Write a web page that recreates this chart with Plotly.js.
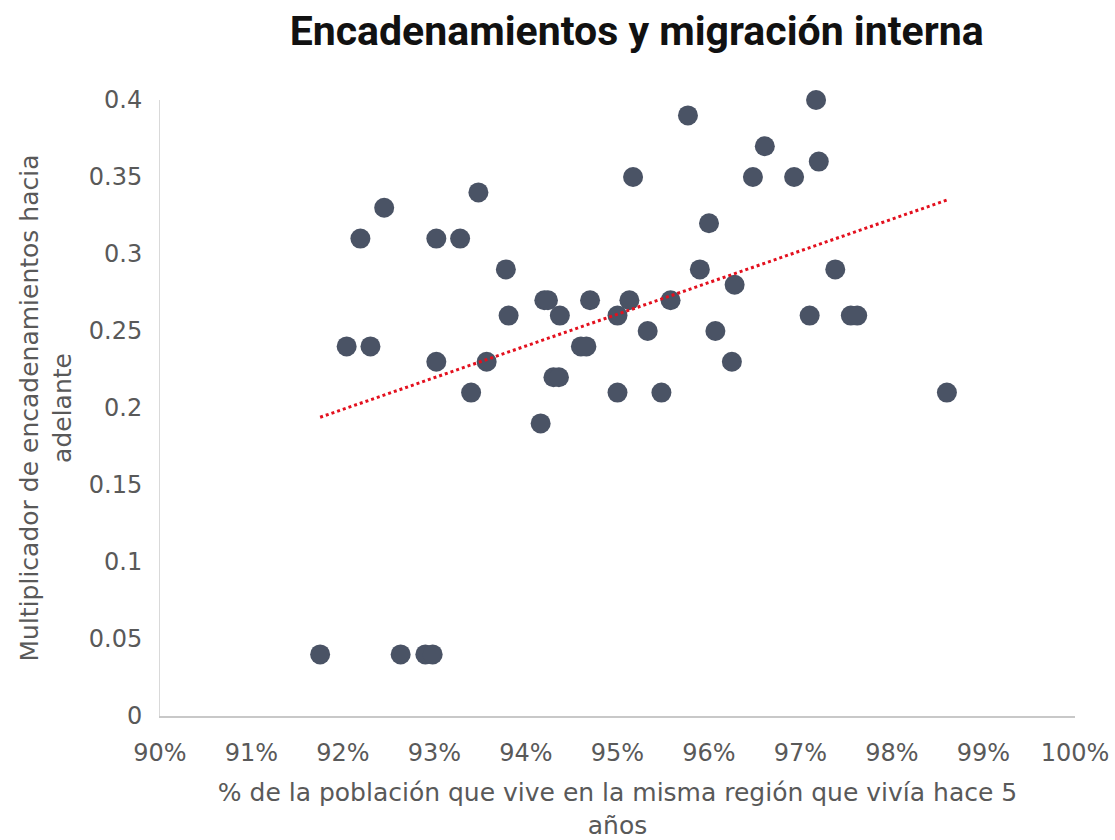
<!DOCTYPE html>
<html>
<head>
<meta charset="utf-8">
<script src="https://cdn.plot.ly/plotly-3.0.1.min.js"></script>
<style>html,body{margin:0;padding:0;background:#fff;}#chart{width:1115px;height:840px;}</style>
</head>
<body>
<div id="chart"></div>
<script>
// % of population living in same region as 5 years ago
const migracion = [91.75, 92.63, 92.9, 92.98, 92.04, 92.3, 92.19, 92.45, 93.02, 93.28,
  93.48, 93.02, 93.4, 93.57, 93.78, 93.81, 94.16, 94.2, 94.24, 94.37,
  94.3, 94.36, 94.6, 94.66, 94.7, 95.0, 95.0, 95.13, 95.17, 95.33,
  95.48, 95.58, 95.77, 95.9, 96.0, 96.07, 96.25, 96.28, 96.48, 96.61,
  96.93, 97.17, 97.2, 97.1, 97.38, 97.55, 97.62, 98.6];
// Forward linkage multiplier
const multiplicador = [0.04, 0.04, 0.04, 0.04, 0.24, 0.24, 0.31, 0.33, 0.31, 0.31,
  0.34, 0.23, 0.21, 0.23, 0.29, 0.26, 0.19, 0.27, 0.27, 0.26,
  0.22, 0.22, 0.24, 0.24, 0.27, 0.21, 0.26, 0.27, 0.35, 0.25,
  0.21, 0.27, 0.39, 0.29, 0.32, 0.25, 0.23, 0.28, 0.35, 0.37,
  0.35, 0.40, 0.36, 0.26, 0.29, 0.26, 0.26, 0.21];
// Linear trendline endpoints
const tendenciaX = [91.75, 98.6];
const tendenciaY = [0.194, 0.335];
const xTicks = [90, 91, 92, 93, 94, 95, 96, 97, 98, 99, 100];
const yTicks = [0, 0.05, 0.1, 0.15, 0.2, 0.25, 0.3, 0.35, 0.4];

const tickFont = {family: 'DejaVu Sans, sans-serif', size: 24, color: '#595959'};
const titleFont = {family: 'DejaVu Sans, sans-serif', size: 25, color: '#595959'};

Plotly.newPlot('chart', [
  {
    x: migracion, y: multiplicador, type: 'scatter', mode: 'markers',
    marker: {size: 20, color: '#4a5365'}, cliponaxis: false, hoverinfo: 'x+y'
  },
  {
    x: tendenciaX, y: tendenciaY, type: 'scatter', mode: 'lines',
    line: {color: '#e3101e', width: 3, dash: 'dot'}, cliponaxis: false
  }
], {
  width: 1115, height: 840,
  showlegend: false,
  paper_bgcolor: '#fff', plot_bgcolor: '#fff',
  margin: {l: 160, r: 40, t: 100, b: 124},
  title: {
    text: '<b>Encadenamientos y migración interna</b>',
    font: {family: 'Roboto, sans-serif', size: 41, color: '#111'},
    x: 0.571, xanchor: 'center', y: 0.963, yanchor: 'middle'
  },
  xaxis: {
    range: [90, 100], tickvals: xTicks, ticktext: xTicks.map(v => v + '%'),
    showgrid: false, zeroline: false, showline: true, linecolor: '#c8c8c8', linewidth: 2,
    ticks: '', tickfont: tickFont, ticklabelstandoff: 14,
    title: {text: '% de la población que vive en la misma región que vivía hace 5<br>años',
      font: titleFont, standoff: 25}
  },
  yaxis: {
    range: [0, 0.4], tickvals: yTicks, ticktext: yTicks.map(v => String(v)),
    showgrid: false, zeroline: false, showline: true, linecolor: '#d9d9d9', linewidth: 1,
    ticks: '', tickfont: tickFont, ticklabelstandoff: 12,
    title: {text: 'Multiplicador de encadenamientos hacia<br>adelante',
      font: titleFont, standoff: 10}
  }
}, {displayModeBar: false});
</script>
</body>
</html>
